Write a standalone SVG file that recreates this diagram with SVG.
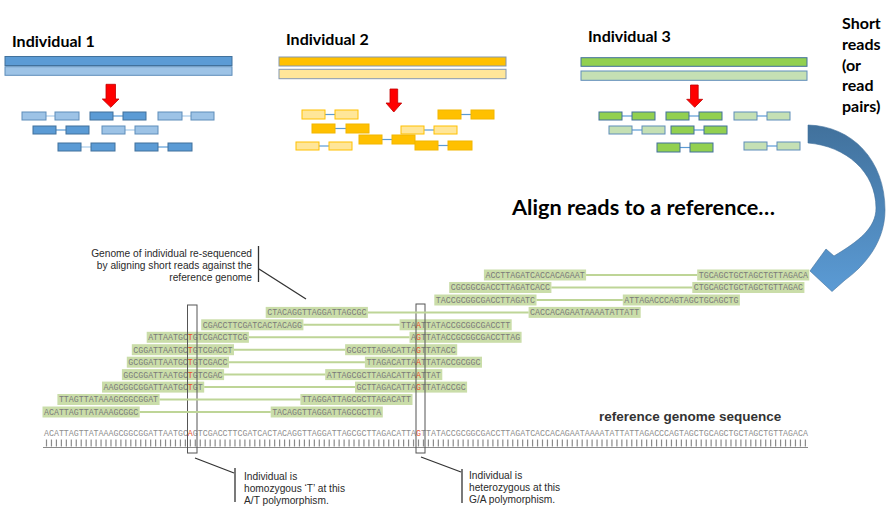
<svg xmlns="http://www.w3.org/2000/svg" width="890" height="515" viewBox="0 0 890 515">
<defs>
<style>
.hd{font-family:Lato,"Liberation Sans",sans-serif;font-weight:bold;font-size:16px;fill:#000}
.bd1{fill:#5B9BD5;stroke:#41719C;stroke-width:1}
.bl1{fill:#9DC3E6;stroke:#5E8DBA;stroke-width:1}
.bd2{fill:#FFC000;stroke:#F2B600;stroke-width:1}
.bl2{fill:#FFE699;stroke:#FFC000;stroke-width:1}
.bar2d{fill:#FFC000;stroke:#8497B0;stroke-width:1}
.bar2l{fill:#FFE699;stroke:#8497B0;stroke-width:1}
.bd3{fill:#92D050;stroke:#41719C;stroke-width:1}
.bl3{fill:#C5E0B4;stroke:#5E8DBA;stroke-width:1}
.ln{stroke:#5B9BD5;stroke-width:1.2}
.lnl{stroke:#A9CBE9;stroke-width:1.2}
.ra{fill:#FF0000;stroke:#C00000;stroke-width:0.8}
.hl{fill:#CADDA9}
.sq{font-family:"Liberation Mono",monospace;font-size:8.27px;fill:#7a7a7a}
.rs{font-family:"Liberation Mono",monospace;font-size:8.27px;fill:#8e8e8e}
.v{fill:#E8502A}
.lk{stroke:#BED597;stroke-width:2}
.an{font-family:"Liberation Sans",Arial,sans-serif;font-size:10.2px;fill:#2a2a2a}
.al{stroke:#333;stroke-width:1.3;fill:none}
.bx{fill:none;stroke:#555;stroke-width:1}
</style>
<linearGradient id="cg" x1="0" y1="0" x2="0" y2="1">
<stop offset="0" stop-color="#41719C"/>
<stop offset="1" stop-color="#5B9BD5"/>
</linearGradient>
</defs>
<rect width="890" height="515" fill="#fff"/>

<g id="individual-1">
<text class="hd" x="12" y="47">Individual 1</text>
<rect class="bd1" x="5" y="56.5" width="227" height="9"/>
<rect class="bl1" x="5" y="66.7" width="227" height="8.6"/>
<line class="lnl" x1="46" y1="116" x2="55" y2="116"/>
<rect class="bl1" x="22" y="112" width="24" height="8"/><rect class="bl1" x="55" y="112" width="24" height="8"/>
<line class="ln" x1="113" y1="116" x2="123" y2="116"/>
<rect class="bd1" x="90" y="112" width="23" height="8"/><rect class="bd1" x="123" y="112" width="23" height="8"/>
<line class="lnl" x1="182" y1="116" x2="191" y2="116"/>
<rect class="bl1" x="158" y="112" width="24" height="8"/><rect class="bl1" x="191" y="112" width="23" height="8"/>
<line class="ln" x1="56" y1="130" x2="66" y2="130"/>
<rect class="bd1" x="33" y="126" width="23" height="8"/><rect class="bd1" x="66" y="126" width="23" height="8"/>
<line class="lnl" x1="125" y1="130" x2="135" y2="130"/>
<rect class="bl1" x="102" y="126" width="23" height="8"/><rect class="bl1" x="135" y="126" width="23" height="8"/>
<line class="lnl" x1="81" y1="147" x2="91" y2="147"/>
<rect class="bd1" x="58" y="143" width="23" height="8"/><rect class="bd1" x="91" y="143" width="24" height="8"/>
<line class="ln" x1="158" y1="147" x2="168" y2="147"/>
<rect class="bd1" x="135" y="143" width="23" height="8"/><rect class="bd1" x="168" y="143" width="24" height="8"/>
</g>

<g id="individual-2">
<text class="hd" x="286" y="45">Individual 2</text>
<rect class="bar2d" x="279" y="57" width="227" height="9"/>
<rect class="bar2l" x="279" y="69.3" width="227" height="9.4"/>
<line class="ln" x1="325" y1="114.5" x2="335" y2="114.5"/>
<rect class="bl2" x="302" y="110" width="23" height="9"/><rect class="bl2" x="335" y="110" width="23" height="9"/>
<line class="ln" x1="461" y1="114.5" x2="471" y2="114.5"/>
<rect class="bd2" x="438" y="110" width="23" height="9"/><rect class="bd2" x="471" y="110" width="23" height="9"/>
<line class="ln" x1="335" y1="128.5" x2="346" y2="128.5"/>
<rect class="bd2" x="312" y="124" width="23" height="9"/><rect class="bd2" x="346" y="124" width="23" height="9"/>
<line class="ln" x1="424" y1="130" x2="434" y2="130"/>
<rect class="bl2" x="401" y="126" width="23" height="8"/><rect class="bl2" x="434" y="126" width="23" height="8"/>
<line class="ln" x1="382" y1="139.5" x2="392" y2="139.5"/>
<rect class="bd2" x="359" y="135" width="23" height="9"/><rect class="bd2" x="392" y="135" width="23" height="9"/>
<line class="ln" x1="319" y1="146" x2="329" y2="146"/>
<rect class="bl2" x="296" y="142" width="23" height="8"/><rect class="bl2" x="329" y="142" width="23" height="8"/>
<line class="ln" x1="438" y1="145.5" x2="448" y2="145.5"/>
<rect class="bd2" x="415" y="141" width="23" height="9"/><rect class="bd2" x="448" y="141" width="24" height="9"/>
</g>

<g id="individual-3">
<text class="hd" x="588" y="42">Individual 3</text>
<rect class="bd3" x="581" y="57.7" width="226" height="8.6"/>
<rect class="bl3" x="581" y="71" width="226" height="9.3"/>
<line class="ln" x1="622" y1="116" x2="632" y2="116"/>
<rect class="bd3" x="599" y="112" width="23" height="8"/><rect class="bd3" x="632" y="112" width="23" height="8"/>
<line class="ln" x1="689" y1="116" x2="699" y2="116"/>
<rect class="bd3" x="666" y="112" width="23" height="8"/><rect class="bd3" x="699" y="112" width="23" height="8"/>
<line class="ln" x1="757" y1="116" x2="767" y2="116"/>
<rect class="bl3" x="734" y="112" width="23" height="8"/><rect class="bl3" x="767" y="112" width="23" height="8"/>
<line class="ln" x1="632" y1="130" x2="642" y2="130"/>
<rect class="bl3" x="609" y="126" width="23" height="8"/><rect class="bl3" x="642" y="126" width="23" height="8"/>
<line class="ln" x1="694" y1="130" x2="704" y2="130"/>
<rect class="bd3" x="671" y="126" width="23" height="8"/><rect class="bd3" x="704" y="126" width="23" height="8"/>
<line class="ln" x1="680" y1="147.5" x2="690" y2="147.5"/>
<rect class="bd3" x="657" y="143" width="23" height="9"/><rect class="bd3" x="690" y="143" width="23" height="9"/>
<line class="ln" x1="767" y1="146" x2="777" y2="146"/>
<rect class="bl3" x="744" y="142" width="23" height="8"/><rect class="bl3" x="777" y="142" width="23" height="8"/>
</g>

<g id="short-reads-label">
<text class="hd" x="842" y="29">Short</text>
<text class="hd" x="842" y="50">reads</text>
<text class="hd" x="842" y="70.5">(or</text>
<text class="hd" x="842" y="91">read</text>
<text class="hd" x="842" y="111.5">pairs)</text>
</g>

<g id="align-label">
<text class="hd" x="512" y="215" style="font-size:21px" textLength="263" lengthAdjust="spacingAndGlyphs">Align reads to a reference…</text>
</g>

<g id="genome-note">
<text class="an" x="252" y="257" text-anchor="end">Genome of individual re-sequenced</text>
<text class="an" x="252" y="269" text-anchor="end">by aligning short reads against the</text>
<text class="an" x="252" y="281" text-anchor="end">reference genome</text>
</g>

<g id="alignment-reads">
<g id="row-0">
<rect class="hl" x="483.9" y="269.5" width="102.2" height="11"/><text class="sq" x="485.44" y="277.9">ACCTTAGATCACCACAGAAT</text>
<rect class="hl" x="697.2" y="269.5" width="112.1" height="11"/><text class="sq" x="698.72" y="277.9">TGCAGCTGCTAGCTGTTAGACA</text>
</g>
<g id="row-1">
<rect class="hl" x="449.2" y="282" width="102.2" height="11"/><text class="sq" x="450.72" y="290.4">CGCGGCGACCTTAGATCACC</text>
<rect class="hl" x="692.3" y="282" width="112.1" height="11"/><text class="sq" x="693.76" y="290.4">CTGCAGCTGCTAGCTGTTAGAC</text>
</g>
<g id="row-2">
<rect class="hl" x="434.3" y="294.5" width="102.2" height="11"/><text class="sq" x="435.84" y="302.9">TACCGCGGCGACCTTAGATC</text>
<rect class="hl" x="622.8" y="294.5" width="117.1" height="11"/><text class="sq" x="624.32" y="302.9">ATTAGACCCAGTAGCTGCAGCTG</text>
</g>
<g id="row-3">
<rect class="hl" x="265.7" y="306.9" width="102.2" height="11"/><text class="sq" x="267.2" y="315.3">CTACAGGTTAGGATTAGCGC</text>
<rect class="hl" x="528.6" y="306.9" width="112.1" height="11"/><text class="sq" x="530.08" y="315.3">CACCACAGAATAAAATATTATT</text>
</g>
<g id="row-4">
<rect class="hl" x="201.2" y="319.3" width="102.2" height="11"/><text class="sq" x="202.72" y="327.7">CGACCTTCGATCACTACAGG</text>
<rect class="hl" x="399.6" y="319.3" width="112.1" height="11"/><text class="sq" x="401.12" y="327.7">TTA<tspan class="v">A</tspan>TTATACCGCGGCGACCTT</text>
</g>
<g id="row-5">
<rect class="hl" x="146.7" y="331.8" width="102.2" height="11"/><text class="sq" x="148.16" y="340.2">ATTAATGC<tspan class="v">T</tspan>GTCGACCTTCG</text>
<rect class="hl" x="409.5" y="331.8" width="112.1" height="11"/><text class="sq" x="411.04" y="340.2">A<tspan class="v">G</tspan>TTATACCGCGGCGACCTTAG</text>
</g>
<g id="row-6">
<rect class="hl" x="131.8" y="344.2" width="102.2" height="11"/><text class="sq" x="133.28" y="352.6">CGGATTAATGC<tspan class="v">T</tspan>GTCGACCT</text>
<rect class="hl" x="345.1" y="344.2" width="112.1" height="11"/><text class="sq" x="346.56" y="352.6">GCGCTTAGACATTA<tspan class="v">G</tspan>TTATACC</text>
</g>
<g id="row-7">
<rect class="hl" x="126.8" y="356.7" width="102.2" height="11"/><text class="sq" x="128.32" y="365.1">GCGGATTAATGC<tspan class="v">T</tspan>GTCGACC</text>
<rect class="hl" x="364.9" y="356.7" width="117.1" height="11"/><text class="sq" x="366.4" y="365.1">TTAGACATTA<tspan class="v">A</tspan>TTATACCGCGGC</text>
</g>
<g id="row-8">
<rect class="hl" x="121.9" y="369.1" width="102.2" height="11"/><text class="sq" x="123.36" y="377.5">GGCGGATTAATGC<tspan class="v">T</tspan>GTCGAC</text>
<rect class="hl" x="325.2" y="369.1" width="117.1" height="11"/><text class="sq" x="326.72" y="377.5">ATTAGCGCTTAGACATTA<tspan class="v">A</tspan>TTAT</text>
</g>
<g id="row-9">
<rect class="hl" x="102" y="381.6" width="102.2" height="11"/><text class="sq" x="103.52" y="390">AAGCGGCGGATTAATGC<tspan class="v">T</tspan>GT</text>
<rect class="hl" x="355" y="381.6" width="112.1" height="11"/><text class="sq" x="356.48" y="390">GCTTAGACATTA<tspan class="v">G</tspan>TTATACCGC</text>
</g>
<g id="row-10">
<rect class="hl" x="57.4" y="394" width="102.2" height="11"/><text class="sq" x="58.88" y="402.4">TTAGTTATAAAGCGGCGGAT</text>
<rect class="hl" x="300.4" y="394" width="112.1" height="11"/><text class="sq" x="301.92" y="402.4">TTAGGATTAGCGCTTAGACATT</text>
</g>
<g id="row-11">
<rect class="hl" x="42.5" y="406.5" width="97.2" height="11"/><text class="sq" x="44" y="414.9">ACATTAGTTATAAAGCGGC</text>
<rect class="hl" x="270.7" y="406.5" width="112.1" height="11"/><text class="sq" x="272.16" y="414.9">TACAGGTTAGGATTAGCGCTTA</text>
</g>
</g>

<g id="reference-genome">
<text x="599" y="420.5" style="font-family:'Liberation Sans',Arial,sans-serif;font-weight:bold;font-size:13.5px;fill:#333">reference genome sequence</text>
<text class="rs" x="44" y="436">ACATTAGTTATAAAGCGGCGGATTAATGC<tspan class="v">A</tspan>GTCGACCTTCGATCACTACAGGTTAGGATTAGCGCTTAGACATTA<tspan class="v">G</tspan>TTATACCGCGGCGACCTTAGATCACCACAGAATAAAATATTATTAGACCCAGTAGCTGCAGCTGCTAGCTGTTAGACA</text>
<line x1="44" y1="443" x2="808" y2="443" stroke="#8a8a8a" stroke-width="7" stroke-dasharray="1.2 3.76" stroke-dashoffset="-1.9"/>
<line x1="43" y1="447.5" x2="808" y2="447.5" stroke="#8a8a8a" stroke-width="1"/>
</g>

<g id="polymorphism-AT">
<rect class="bx" x="187.5" y="305" width="9.5" height="148"/>
<text class="an" x="244" y="480">Individual is</text>
<text class="an" x="244" y="492">homozygous ‘T’ at this</text>
<text class="an" x="244" y="504">A/T polymorphism.</text>
</g>

<g id="polymorphism-GA">
<rect class="bx" x="416" y="304" width="9" height="149"/>
<text class="an" x="469" y="479">Individual is</text>
<text class="an" x="469" y="491">heterozygous at this</text>
<text class="an" x="469" y="503">G/A polymorphism.</text>
</g>

<g id="connectors">
<path class="ra" d="M106,84.3 H115.5 V99 H119 L110.8,107.3 L102.3,99 H106 Z"/>
<path class="ra" d="M390,89 H397.7 V103 H401.7 L393.8,112 L386,103 H390 Z"/>
<path class="ra" d="M690.5,85 H698.2 V99.3 H702.7 L694.7,107.3 L686.7,99.3 H690.5 Z"/>
<path d="M808,125 C852,126 885,160 885,210 C885,240 867,264 845,280 L832,291.5 L810,271 L826,249 L834,256 C859,241 876,228 876,208 C876,172 846,146 808,143 Z" fill="url(#cg)" stroke="#41719C" stroke-width="0.6"/>
<g id="read-pair-links">
<line class="lk" x1="586.1" y1="275" x2="697.2" y2="275"/>
<line class="lk" x1="551.4" y1="287.5" x2="692.3" y2="287.5"/>
<line class="lk" x1="536.5" y1="300" x2="622.8" y2="300"/>
<line class="lk" x1="367.9" y1="312.4" x2="528.6" y2="312.4"/>
<line class="lk" x1="303.4" y1="324.8" x2="399.6" y2="324.8"/>
<line class="lk" x1="248.9" y1="337.3" x2="409.5" y2="337.3"/>
<line class="lk" x1="234" y1="349.7" x2="345.1" y2="349.7"/>
<line class="lk" x1="229" y1="362.2" x2="364.9" y2="362.2"/>
<line class="lk" x1="224.1" y1="374.6" x2="325.2" y2="374.6"/>
<line class="lk" x1="204.2" y1="387.1" x2="355" y2="387.1"/>
<line class="lk" x1="159.6" y1="399.5" x2="300.4" y2="399.5"/>
<line class="lk" x1="139.7" y1="412" x2="270.7" y2="412"/>
</g>
<path class="al" d="M258.5,246 V282 M259,269 L306,299"/>
<path class="al" d="M195,458 L234,473 M235,468 V502"/>
<path class="al" d="M421,457 L461,472 M462,469 V503"/>
</g>
</svg>
